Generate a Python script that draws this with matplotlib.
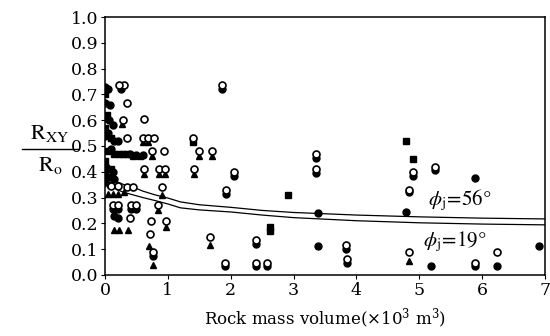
import numpy as np
import matplotlib
matplotlib.use('Agg')
import matplotlib.pyplot as plt

plt.rcParams['font.family'] = ['DejaVu Serif', 'Liberation Serif']
plt.rcParams['mathtext.fontset'] = 'stix'

# open circles
open_x = [0.30, 0.35, 0.28, 0.62, 0.35, 0.60, 0.68, 0.78, 1.40, 0.75, 0.93, 1.50, 1.70,
          0.62, 0.86, 0.95, 1.42, 2.05, 0.90, 1.93, 0.10, 0.20, 0.35, 0.45, 0.12, 0.20,
          0.42, 0.50, 0.85, 0.40, 0.73, 0.97, 0.72, 0.77, 1.67, 2.40, 1.86, 3.36, 3.36,
          3.83, 3.85, 4.83, 4.83, 4.90, 5.25, 5.88, 6.24, 1.91, 2.40, 2.58, 0.22]
open_y = [0.735, 0.665, 0.600, 0.605, 0.530, 0.530, 0.530, 0.530, 0.530, 0.480, 0.480, 0.480, 0.480,
          0.410, 0.410, 0.410, 0.410, 0.400, 0.340, 0.330, 0.345, 0.345, 0.340, 0.340, 0.270, 0.270,
          0.270, 0.270, 0.270, 0.220, 0.210, 0.210, 0.160, 0.090, 0.145, 0.135, 0.735, 0.470, 0.410,
          0.115, 0.060, 0.090, 0.330, 0.400, 0.420, 0.045, 0.090, 0.045, 0.045, 0.045, 0.735]

# filled triangles
tri_x = [0.27, 0.60, 0.68, 0.62, 0.86, 0.95, 1.42, 0.90, 0.85, 0.97, 0.15, 0.22, 0.37,
         0.05, 0.12, 0.20, 0.30, 0.70, 0.77, 1.67, 4.83, 0.75, 1.50, 1.70, 0.45, 0.55]
tri_y = [0.585, 0.515, 0.515, 0.390, 0.390, 0.390, 0.390, 0.310, 0.250, 0.185, 0.175, 0.175, 0.175,
         0.315, 0.315, 0.315, 0.320, 0.110, 0.040, 0.115, 0.055, 0.460, 0.460, 0.460, 0.460, 0.460]

# filled circles
dot_x = [0.00, 0.05, 0.00, 0.08, 0.00, 0.06, 0.12, 0.00, 0.05, 0.15, 0.20, 0.10, 0.40, 0.50,
         0.60, 0.02, 0.12, 0.00, 0.08, 0.15, 1.86, 2.05, 1.93, 0.12, 0.20, 0.42, 0.50, 0.15,
         0.20, 0.77, 2.40, 1.91, 2.40, 2.58, 3.38, 3.38, 3.83, 3.85, 4.78, 4.83, 4.90, 5.25,
         5.89, 5.18, 5.88, 6.24, 6.90, 3.36, 3.36, 0.25]
dot_y = [0.730, 0.720, 0.665, 0.660, 0.610, 0.600, 0.580, 0.540, 0.550, 0.520, 0.520, 0.490, 0.470, 0.465,
         0.465, 0.420, 0.400, 0.360, 0.350, 0.370, 0.720, 0.385, 0.315, 0.255, 0.255, 0.255, 0.255, 0.230,
         0.220, 0.075, 0.120, 0.035, 0.035, 0.035, 0.240, 0.110, 0.100, 0.045, 0.245, 0.320, 0.385, 0.405,
         0.375, 0.035, 0.035, 0.035, 0.110, 0.455, 0.395, 0.720]

# filled squares
sq_x = [2.91, 2.63, 2.63, 4.78, 4.90, 1.40, 0.00, 0.03, 0.00, 0.10, 0.05, 0.15, 0.22, 0.28,
        0.35, 0.00, 0.05, 0.10, 0.00]
sq_y = [0.310, 0.185, 0.170, 0.520, 0.450, 0.515, 0.700, 0.620, 0.570, 0.530, 0.480, 0.470, 0.470, 0.470,
        0.470, 0.400, 0.380, 0.410, 0.440]

# fitted curves
curve_x = [0.1, 0.2, 0.3, 0.45, 0.6, 0.8, 1.0, 1.2, 1.5, 2.0, 2.5, 3.0, 4.0, 5.0, 6.0, 7.0]
curve_56 = [0.370, 0.360, 0.350, 0.340, 0.325, 0.310, 0.298, 0.283, 0.272, 0.262, 0.250, 0.242,
            0.232, 0.225, 0.220, 0.217]
curve_19 = [0.345, 0.330, 0.320, 0.310, 0.300, 0.288, 0.275, 0.260, 0.252, 0.244, 0.232, 0.222,
            0.210, 0.202, 0.197, 0.194]

fig = plt.figure(figsize=(5.5, 3.36), dpi=100)
ax = fig.add_axes([0.191, 0.182, 0.800, 0.767])

ax.plot(curve_x, curve_56, color='black', lw=0.9)
ax.plot(curve_x, curve_19, color='black', lw=0.9)

ms = 5
ax.plot(sq_x, sq_y, 's', color='black', ms=ms - 0.5, ls='none')
ax.plot(dot_x, dot_y, 'o', color='black', ms=ms, ls='none')
ax.plot(tri_x, tri_y, '^', color='black', ms=ms, ls='none')
ax.plot(open_x, open_y, 'o', mfc='white', mec='black', mew=1.2, ms=ms, ls='none')

ax.set_xlim(0, 7)
ax.set_ylim(0, 1.0)
ax.set_xticks(range(0, 8))
ax.set_yticks(np.arange(0, 1.01, 0.1))
ax.set_yticklabels(['%.1f' % v for v in np.arange(0, 1.01, 0.1)])
ax.tick_params(labelsize=12.5, length=3, width=0.8, direction='out', pad=2)
for s in ax.spines.values():
    s.set_linewidth(1.1)

ax.text(5.13, 0.287, r'$\phi_{\mathrm{j}}\!=\!56°$', fontsize=15, va='center')
ax.text(5.06, 0.128, r'$\phi_{\mathrm{j}}\!=\!19°$', fontsize=15, va='center')

ax.set_xlabel(r'Rock mass volume($\times$10$^3$ m$^3$)', fontsize=12, labelpad=6,
              math_fontfamily='dejavuserif')

fig.text(0.091, 0.604, r'$\mathrm{R_{XY}}$', fontsize=16, ha='center', va='center')
fig.text(0.091, 0.508, r'$\mathrm{R_{o}}$', fontsize=16, ha='center', va='center')
fig.add_artist(plt.Line2D([0.04, 0.142], [0.556, 0.556], transform=fig.transFigure,
                          color='black', lw=1.0))

fig.savefig('out.png', dpi=100)
